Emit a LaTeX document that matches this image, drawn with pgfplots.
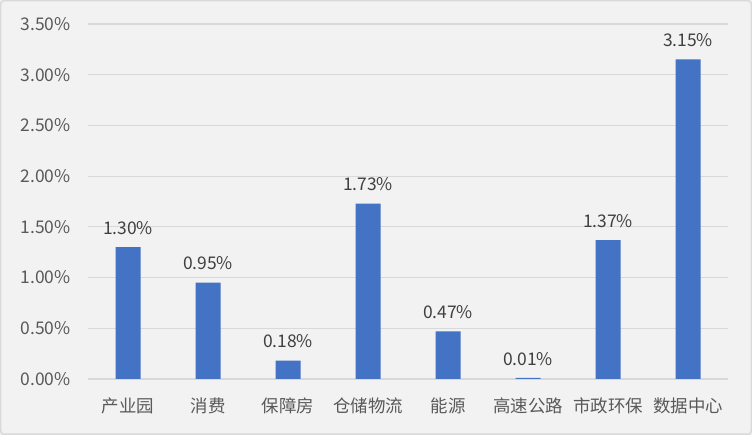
\documentclass[border=0pt]{standalone}
\usepackage{fontspec}
\setmainfont{Noto Sans CJK SC}
\usepackage{pgfplots}
\pgfplotsset{compat=1.18}
\definecolor{barblue}{HTML}{4472C4}
\definecolor{gridgray}{HTML}{D9D9D9}
\definecolor{txtgray}{HTML}{595959}
\definecolor{bggray}{HTML}{F2F2F2}
\begin{document}
\begin{tikzpicture}[x=1bp,y=1bp]
\fill[bggray] (0,0) rectangle (752,435);
\draw[gridgray,line width=1.5bp,rounded corners=3bp] (0.75,0.75) rectangle (751.25,434.25);
\begin{axis}[
  at={(88bp,56bp)}, anchor=south west,
  scale only axis, width=640bp, height=355bp,
  ybar, bar width=25bp,
  xmin=-0.5, xmax=7.5, ymin=0, ymax=3.5,
  axis lines=left,
  x axis line style={-,gridgray,line width=1.2bp},
  y axis line style={draw=none},
  ymajorgrids, grid style={gridgray,line width=1.2bp},
  ytick={0,0.5,1,1.5,2,2.5,3,3.5},
  yticklabel={\pgfmathprintnumber[fixed,fixed zerofill,precision=2]{\tick}\%},
  /pgf/number format/assume math mode=true,
  xtick=data,
  xticklabels={产业园,消费,保障房,仓储物流,能源,高速公路,市政环保,数据中心},
  major tick length=0pt,
  tick label style={font=\fontsize{17.5}{20}\selectfont, text=txtgray},
  yticklabel style={xshift=-14bp},
  xticklabel style={yshift=-15bp},
  nodes near coords={\pgfmathprintnumber[fixed,fixed zerofill,precision=2]{\pgfplotspointmeta}\%},
  nodes near coords style={font=\fontsize{17.5}{20}\selectfont, text=black!75, yshift=9bp},
  clip=false,
]
\addplot[fill=barblue, draw=none] coordinates {
(0,1.30) (1,0.95) (2,0.18) (3,1.73) (4,0.47) (5,0.01) (6,1.37) (7,3.15)
};
\end{axis}
\end{tikzpicture}
\end{document}
